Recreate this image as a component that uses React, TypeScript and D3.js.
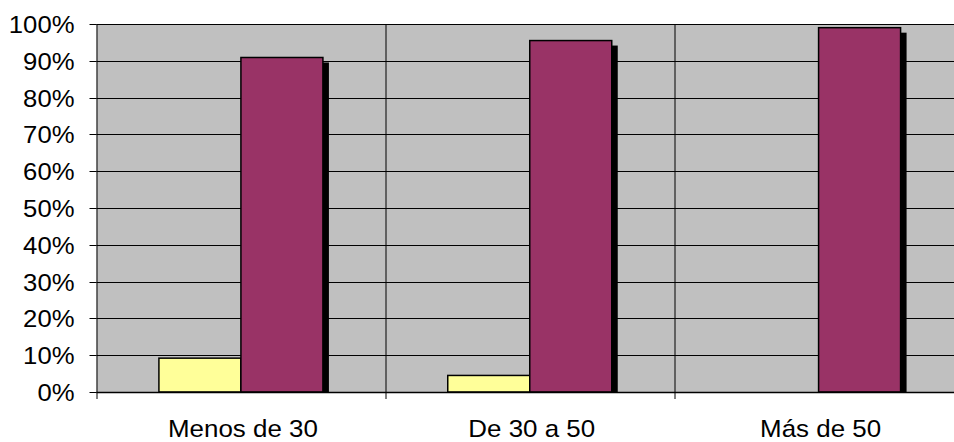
import * as d3 from 'd3'

// Age groups and the two answer series (share of respondents)
const categories = ['Menos de 30', 'De 30 a 50', 'Más de 50']
const seriesNames = ['No', 'Sí']
const seriesNo = [0.092, 0.045, 0]
const seriesYes = [0.909, 0.955, 0.99]
const yTicks = [0, 0.1, 0.2, 0.3, 0.4, 0.5, 0.6, 0.7, 0.8, 0.9, 1]

const COLORS: Record<string, string> = {
  No: '#ffff99',
  Sí: '#993366',
}

const WIDTH = 954
const HEIGHT = 442
const margin = { top: 24, right: -9, bottom: 50, left: 96.5 }

export default function App() {
  const innerWidth = WIDTH - margin.left - margin.right
  const innerHeight = HEIGHT - margin.top - margin.bottom

  const x = d3.scaleBand<string>().domain(categories).range([0, innerWidth]).padding(0)
  const barW = 82
  const outer = (x.bandwidth() / barW - 2) / 2
  const xs = d3.scaleBand<string>().domain(seriesNames).range([0, x.bandwidth()])
    .paddingInner(0).paddingOuter(outer)
  const y = d3.scaleLinear().domain([0, 1]).range([innerHeight, 0])

  const rows = categories.map((c, i) => ({ cat: c, values: [seriesNo[i], seriesYes[i]] }))
  const fmt = d3.format('.0%')
  const font = "'Liberation Sans', Arial, sans-serif"
  // the original text is slightly stretched horizontally
  const stretch = 1.07

  return (
    <svg width={WIDTH} height={HEIGHT} style={{ position: 'absolute', left: 0, top: 0, background: '#fff' }}>
      <g transform={`translate(${margin.left},${margin.top})`}>
        {/* plot background */}
        <rect x={0} y={0} width={innerWidth} height={innerHeight} fill="#c0c0c0" />
        {/* horizontal grid */}
        {yTicks.map(t => (
          <line key={t} x1={0} x2={innerWidth} y1={Math.round(y(t)) + 0.5} y2={Math.round(y(t)) + 0.5}
            stroke="#000" strokeWidth={1} />
        ))}
        {/* vertical grid at category boundaries */}
        {categories.slice(1).map(c => (
          <line key={c} x1={Math.round(x(c)!) + 0.5} x2={Math.round(x(c)!) + 0.5} y1={0} y2={innerHeight}
            stroke="#000" strokeWidth={1} />
        ))}
        {/* bars */}
        {rows.map(r => (
          <g key={r.cat} transform={`translate(${x(r.cat)},0)`}>
            {r.values.map((v, j) => {
              if (v <= 0) return null
              const bx = xs(seriesNames[j])!
              const by = y(v)
              const bh = innerHeight - by
              return (
                <g key={j}>
                  <rect x={bx + 6} y={by + 5} width={barW} height={Math.max(0, bh - 5)} fill="#000" />
                  <rect x={bx} y={by} width={barW} height={bh} fill={COLORS[seriesNames[j]]}
                    stroke="#000" strokeWidth={1.5} />
                </g>
              )
            })}
          </g>
        ))}
        {/* axes */}
        <line x1={0.5} x2={0.5} y1={0} y2={innerHeight + 7} stroke="#000" />
        <line x1={0} x2={innerWidth} y1={innerHeight + 0.5} y2={innerHeight + 0.5} stroke="#000" strokeWidth={1.5} />
        {categories.slice(1).map(c => (
          <line key={c} x1={Math.round(x(c)!) + 0.5} x2={Math.round(x(c)!) + 0.5} y1={innerHeight}
            y2={innerHeight + 7} stroke="#000" />
        ))}
        {yTicks.map(t => (
          <g key={t} transform={`translate(0,${Math.round(y(t)) + 0.5})`}>
            <line x1={-7} x2={0} stroke="#000" />
            <text transform={`translate(-22,0) scale(${stretch},1)`} dy="0.35em" textAnchor="end"
              fontFamily={font} fontSize={24} fill="#000">
              {fmt(t)}
            </text>
          </g>
        ))}
        {categories.map(c => (
          <text key={c} transform={`translate(${x(c)! + x.bandwidth() / 2 + 2},${innerHeight + 45}) scale(${stretch + 0.01},1)`}
            textAnchor="middle" fontFamily={font} fontSize={24} fill="#000">
            {c}
          </text>
        ))}
      </g>
    </svg>
  )
}
